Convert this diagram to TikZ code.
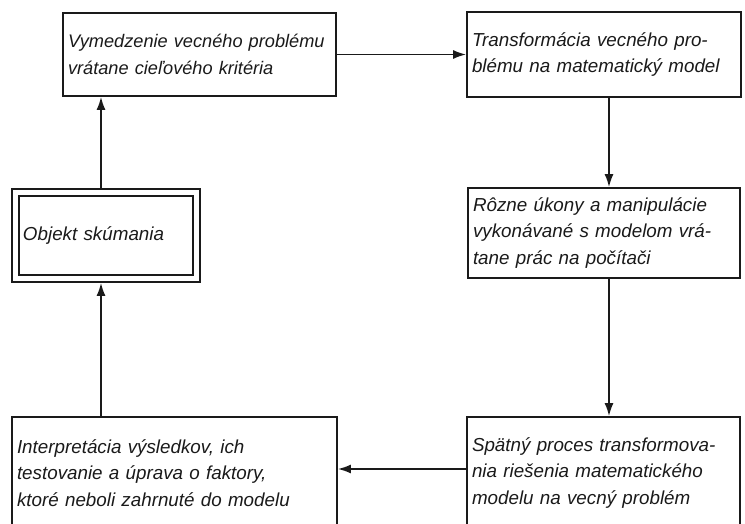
\documentclass[tikz,border=0pt]{standalone}
\usepackage{fontspec}
\setmainfont{Liberation Sans}
\usetikzlibrary{arrows.meta}
\definecolor{ink}{HTML}{1A1A1A}
\tikzset{
  box/.style={draw=ink, line width=1.7pt, rectangle, inner sep=5pt, align=left,
    text=ink, font=\itshape\fontsize{18.8}{26.5}\selectfont, anchor=center,
    execute at begin node={\hyphenpenalty=10000\exhyphenpenalty=10000}},
  arr/.style={draw=ink, line width=1.8pt, -{Latex[length=13pt,width=9pt]}},
}
\begin{document}
\begin{tikzpicture}[x=1pt,y=-1pt]
\fill[white] (0,0) rectangle (745,524);
\useasboundingbox (0,0) rectangle (745,524);
\clip (0,0) rectangle (745,524);

\node[box, inner sep=5pt, minimum width=273pt, minimum height=83pt, text width=263pt,
  font=\itshape\fontsize{18.2}{26.5}\selectfont] (A) at (199.5,54.5)
  {\mbox{Vymedzenie vecného problému}\\vrátane cieľového kritéria};
\node[box, minimum width=274pt, minimum height=85pt, text width=264pt] (B) at (604,54.5)
  {Transformácia vecného pro-\\blému na matematický model};
\node[box, minimum width=272pt, minimum height=90pt, text width=262pt] (C) at (604,233)
  {Rôzne úkony a manipulácie\\vykonávané s modelom vrá-\\tane prác na počítači};
\node[box, minimum width=273pt, minimum height=112pt, text width=263pt] (D) at (603.5,473)
  {Spätný proces transformova-\\nia riešenia matematického\\modelu na vecný problém};
\node[box, minimum width=325pt, minimum height=112pt, text width=315pt] (E) at (174.5,473)
  {Interpretácia výsledkov, ich\\testovanie a úprava o faktory,\\ktoré neboli zahrnuté do modelu};
\node[box, inner sep=11pt, minimum width=188pt, minimum height=93pt, text width=166pt] (F) at (106,235.5)
  {Objekt skúmania};
\draw[ink, line width=1.7pt] ([shift={(8pt,-8pt)}]F.north west) rectangle ([shift={(-8pt,8pt)}]F.south east);

\draw[arr] (A.east) -- (B.west);
\draw[arr] ([xshift=5pt]B.south) -- ([xshift=5pt]B.south |- C.north);
\draw[arr] ([xshift=5pt]C.south) -- ([xshift=5pt]C.south |- D.north);
\draw[arr] ([yshift=4pt]D.west) -- ([yshift=4pt]D.west -| E.east);
\draw[arr] ([xshift=-5pt]F.south |- E.north) -- ([xshift=-5pt]F.south);
\draw[arr] ([xshift=-5pt]F.north) -- ([xshift=-5pt]F.north |- A.south);
\end{tikzpicture}
\end{document}
